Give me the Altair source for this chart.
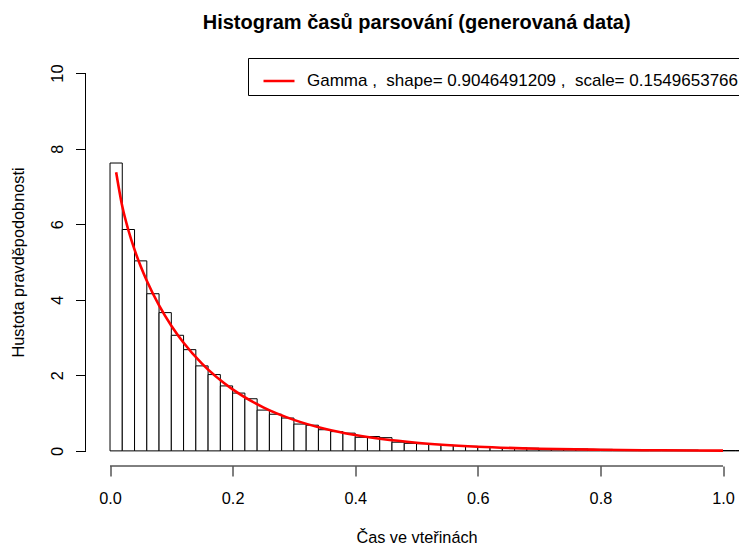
import altair as alt
import pandas as pd

# ---- data ----
BIN_WIDTH = 0.02
DENSITY = [7.62, 5.86, 5.03, 4.16, 3.66, 3.06, 2.68, 2.25, 2.02, 1.72,
           1.53, 1.38, 1.08, 0.97, 0.87, 0.71, 0.68, 0.56, 0.51, 0.47,
           0.36, 0.38, 0.35, 0.23, 0.20, 0.19, 0.17, 0.15, 0.14, 0.12,
           0.10, 0.09, 0.09, 0.08, 0.07, 0.06, 0.06, 0.05, 0.05, 0.04,
           0.04, 0.03, 0.03, 0.03, 0.02, 0.02, 0.02, 0.02, 0.01, 0.01,
           0.01, 0.01]

CURVE_X = [0.01, 0.02, 0.03, 0.04, 0.05, 0.06, 0.08, 0.10, 0.12, 0.15, 0.20,
           0.25, 0.30, 0.35, 0.40, 0.50, 0.60, 0.70, 0.80, 0.90, 1.00]
CURVE_Y = [7.378, 6.474, 5.840, 5.326, 4.888, 4.504, 3.851, 3.314, 2.863, 2.309,
           1.627, 1.153, 0.821, 0.586, 0.419, 0.215, 0.111, 0.057, 0.030, 0.015, 0.008]

NB = "\u00a0"
LEGEND_LABEL = f"Gamma{NB},{NB}{NB}shape={NB}0.9046491209{NB},{NB}{NB}scale={NB}0.1549653766"
TITLE = "Histogram časů parsování (generovaná data)"
X_TITLE = "Čas ve vteřinách"
Y_TITLE = "Hustota pravděpodobnosti"
X_TICKS = [0.0, 0.2, 0.4, 0.6, 0.8, 1.0]
Y_TICKS = [0, 2, 4, 6, 8, 10]

FONT = "Liberation Sans"
FS = 16.3

bars = pd.DataFrame({
    "start": [round(i * BIN_WIDTH, 4) for i in range(len(DENSITY))],
    "end": [round((i + 1) * BIN_WIDTH, 4) for i in range(len(DENSITY))],
    "density": DENSITY,
})
curve = pd.DataFrame({"x": CURVE_X, "y": CURVE_Y, "series": [LEGEND_LABEL] * len(CURVE_X)})

W, H = 653.5, 408
xscale = alt.Scale(domain=[-0.04, 1.0261], nice=False, zero=False)
yscale = alt.Scale(domain=[-0.4, 10.4], nice=False, zero=False)

xaxis = alt.Axis(values=X_TICKS, format=".1f", title=X_TITLE, domain=False, grid=False,
                 tickSize=10, tickColor="black", tickWidth=1,
                 labelFont=FONT, labelFontSize=FS, labelColor="black",
                 labelBaseline="alphabetic", labelPadding=27.3, labelFlush=False,
                 titleFont=FONT, titleFontSize=FS, titleFontWeight="normal", titleColor="black",
                 titleX=331, titleY=76, titleBaseline="alphabetic", titleAlign="center")
yaxis = alt.Axis(values=Y_TICKS, format="d", title=Y_TITLE, domain=False, grid=False,
                 tickSize=10, tickColor="black", tickWidth=1,
                 labelFont=FONT, labelFontSize=FS, labelColor="black",
                 labelAngle=270, labelAlign="center", labelBaseline="alphabetic",
                 labelPadding=12.8, labelFlush=False,
                 titleFont=FONT, titleFontSize=FS, titleFontWeight="normal", titleColor="black",
                 titleAngle=270, titleX=-62, titleY=204, titleBaseline="alphabetic",
                 titleAlign="center")

hist = alt.Chart(bars).mark_rect(fill="white", stroke="black", strokeWidth=1, clip=True).encode(
    x=alt.X("start:Q", scale=xscale, axis=xaxis),
    x2="end:Q",
    y=alt.Y("density:Q", scale=yscale, axis=yaxis),
    y2=alt.datum(0),
)

line = alt.Chart(curve).mark_line(strokeWidth=2.6, interpolate="monotone", clip=True).encode(
    x=alt.X("x:Q", scale=xscale),
    y=alt.Y("y:Q", scale=yscale),
    color=alt.Color("series:N", scale=alt.Scale(range=["#FF0000"]),
                    legend=alt.Legend(orient="none", legendX=162.5, legendY=0, title=None,
                                      symbolType="stroke", symbolSize=961, symbolStrokeWidth=2.5,
                                      symbolOffset=8,
                                      labelFont=FONT, labelFontSize=17.0, labelColor="black",
                                      labelOffset=11, labelLimit=0, padding=6,
                                      strokeColor="black", fillColor="white", cornerRadius=0)),
)

xline = alt.Chart(pd.DataFrame({"a": [0.0], "b": [1.0]})).mark_rule(color="black", strokeWidth=1).encode(
    x=alt.X("a:Q", scale=xscale), x2="b:Q", y=alt.value(H))
yline = alt.Chart(pd.DataFrame({"a": [0], "b": [10]})).mark_rule(color="black", strokeWidth=1).encode(
    y=alt.Y("a:Q", scale=yscale), y2="b:Q", x=alt.value(0))

chart = alt.layer(hist, line, xline, yline).properties(
    width=W, height=H,
    background="white",
    title=alt.Title(TITLE, font=FONT, fontSize=20, fontWeight="bold", color="black",
                    anchor="middle", frame="group", offset=9, dx=4.4, baseline="alphabetic"),
    autosize=alt.AutoSizeParams(type="none"),
    padding={"left": 85.5, "top": 58, "right": 0, "bottom": 80},
).configure_view(strokeWidth=0, stroke="transparent").configure_axis(
    domain=False, grid=False
)

chart.save("out.html", embed_options={"renderer": "svg", "actions": False})
